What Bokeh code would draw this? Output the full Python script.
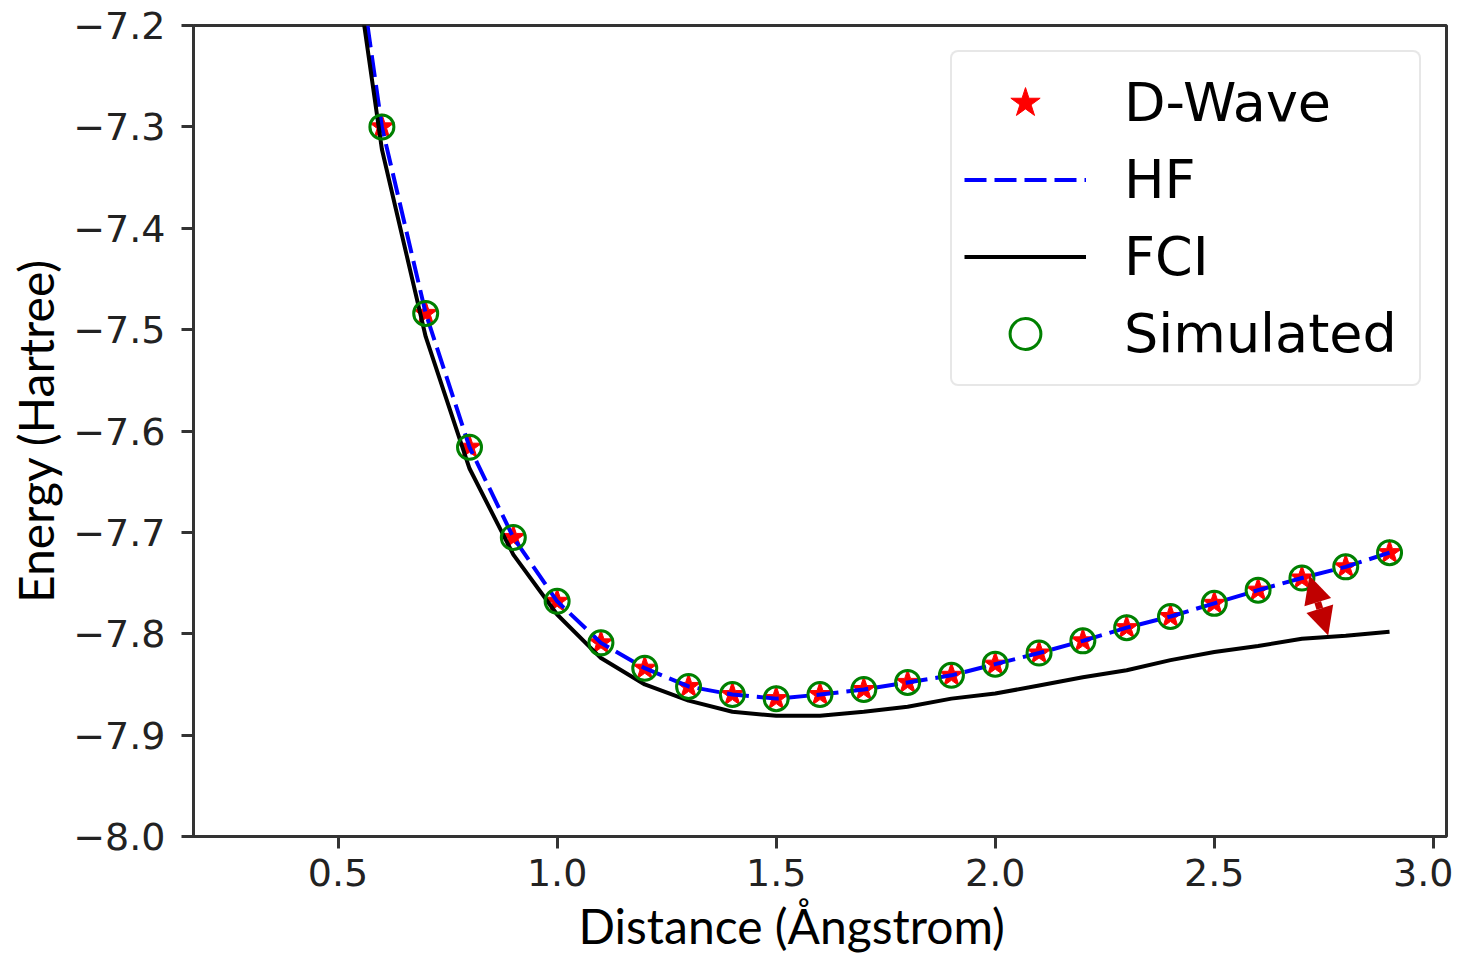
from bokeh.plotting import figure
from bokeh.models import (FixedTicker, CustomJSTickFormatter, Legend, LegendItem,
                          Title, Arrow, NormalHead, Range1d)
from bokeh.embed import file_html
from bokeh.resources import INLINE

# ---------------- data ----------------
distance = [0.6, 0.7, 0.8, 0.9, 1.0, 1.1, 1.2, 1.3, 1.4, 1.5, 1.6, 1.7,
            1.8, 1.9, 2.0, 2.1, 2.2, 2.3, 2.4, 2.5, 2.6, 2.7, 2.8, 2.9]
dwave_energy = [-7.300, -7.484, -7.616, -7.705, -7.768, -7.809, -7.834, -7.852,
                -7.860, -7.864, -7.860, -7.855, -7.848, -7.841, -7.830, -7.819,
                -7.807, -7.794, -7.783, -7.770, -7.757, -7.745, -7.734, -7.720]
simulated_energy = [-7.300, -7.484, -7.616, -7.705, -7.768, -7.809, -7.834, -7.852,
                    -7.860, -7.864, -7.860, -7.855, -7.848, -7.841, -7.830, -7.819,
                    -7.807, -7.794, -7.783, -7.770, -7.757, -7.745, -7.734, -7.720]
line_distance = [0.5, 0.6, 0.7, 0.8, 0.9, 1.0, 1.1, 1.2, 1.3, 1.4, 1.5, 1.6, 1.7,
                 1.8, 1.9, 2.0, 2.1, 2.2, 2.3, 2.4, 2.5, 2.6, 2.7, 2.8, 2.9]
hf_energy = [-6.995, -7.300, -7.484, -7.616, -7.705, -7.768, -7.809, -7.834, -7.852,
             -7.860, -7.864, -7.860, -7.855, -7.848, -7.841, -7.830, -7.819,
             -7.807, -7.794, -7.783, -7.770, -7.757, -7.745, -7.734, -7.720]
fci_energy = [-7.019, -7.322, -7.507, -7.637, -7.722, -7.781, -7.824, -7.850, -7.866,
              -7.877, -7.881, -7.881, -7.877, -7.872, -7.864, -7.859, -7.851,
              -7.843, -7.836, -7.826, -7.818, -7.812, -7.805, -7.802, -7.798]
gap_arrow_x = [2.717, 2.760]
gap_arrow_y = [-7.7425, -7.8017]
x_ticks = [0.5, 1.0, 1.5, 2.0, 2.5, 3.0]
y_ticks = [-8.0, -7.9, -7.8, -7.7, -7.6, -7.5, -7.4, -7.3, -7.2]
series_labels = ["D-Wave", "HF", "FCI", "Simulated"]
x_label = "Distance (\u00c5ngstrom)"
y_label = "Energy (Hartree)"

# ---------------- figure ----------------
p = figure(width=1453, height=960, output_backend="svg", toolbar_location=None,
           x_range=Range1d(0.17, 3.03), y_range=Range1d(-8.0, -7.2),
           min_border_left=193, min_border_right=7, min_border_top=25,
           min_border_bottom=124, background_fill_color="white",
           border_fill_color="white")
p.grid.visible = False
p.outline_line_color = "#333333"
p.outline_line_width = 3

r_dwave = p.scatter(distance, dwave_energy, marker="star", size=26,
                    fill_color="#ff0000", line_color="#ff0000", line_width=1)
r_hf = p.line(line_distance, hf_energy, line_color="#0000ff", line_width=4,
              line_dash="22 8")
r_fci = p.line(line_distance, fci_energy, line_color="#000000", line_width=4)
r_sim = p.scatter(distance, simulated_energy, marker="circle", size=24,
                  fill_color=None, line_color="#008000", line_width=3)

# axes
for ax in (p.xaxis, p.yaxis):
    ax.axis_line_color = "#333333"
    ax.axis_line_width = 3
    ax.major_tick_line_color = "#333333"
    ax.major_tick_line_width = 3
    ax.major_tick_out = 12
    ax.major_tick_in = 0
    ax.minor_tick_line_color = None
    ax.major_label_text_font = "DejaVu Sans"
    ax.major_label_text_font_size = "38px"
    ax.major_label_text_color = "#222222"

p.xaxis.ticker = FixedTicker(ticks=x_ticks)
p.xaxis.formatter = CustomJSTickFormatter(code="return tick.toFixed(1);")
p.xaxis.major_label_standoff = 10

p.yaxis.ticker = FixedTicker(ticks=y_ticks)
p.yaxis.formatter = CustomJSTickFormatter(
    code="return (tick < 0 ? '\u2212' : '') + Math.abs(tick).toFixed(1);")
p.yaxis.major_label_standoff = 16
p.yaxis.axis_label = y_label
p.yaxis.axis_label_text_font = "Lato"
p.yaxis.axis_label_text_font_size = "48px"
p.yaxis.axis_label_text_font_style = "normal"
p.yaxis.axis_label_text_color = "#000000"
p.yaxis.axis_label_standoff = 6

p.add_layout(Title(text=x_label, align="left", offset=385, standoff=13,
                   vertical_align="bottom",
                   text_font="Lato", text_font_size="48px",
                   text_font_style="normal", text_color="#000000"), "below")

# gap arrow
head_kw = dict(size=28, fill_color="#c00000", line_color=None)
p.add_layout(Arrow(x_start=gap_arrow_x[0], y_start=gap_arrow_y[0],
                   x_end=gap_arrow_x[1], y_end=gap_arrow_y[1],
                   start=NormalHead(**head_kw), end=NormalHead(**head_kw),
                   line_color="#c00000", line_width=7))

legend = Legend(items=[LegendItem(label=series_labels[0], renderers=[r_dwave]),
                       LegendItem(label=series_labels[1], renderers=[r_hf]),
                       LegendItem(label=series_labels[2], renderers=[r_fci]),
                       LegendItem(label=series_labels[3], renderers=[r_sim])],
                location="top_right", margin=25, padding=12, spacing=0,
                glyph_width=122, glyph_height=77, label_height=77,
                label_width=283, label_standoff=38,
                label_text_font="DejaVu Sans", label_text_font_size="54px",
                label_text_color="#000000",
                border_line_color="#d0d0d0", border_line_width=2.5,
                border_radius=8, background_fill_color="white",
                background_fill_alpha=0.8)
p.add_layout(legend)

open("out.html", "w").write(file_html(p, INLINE))
